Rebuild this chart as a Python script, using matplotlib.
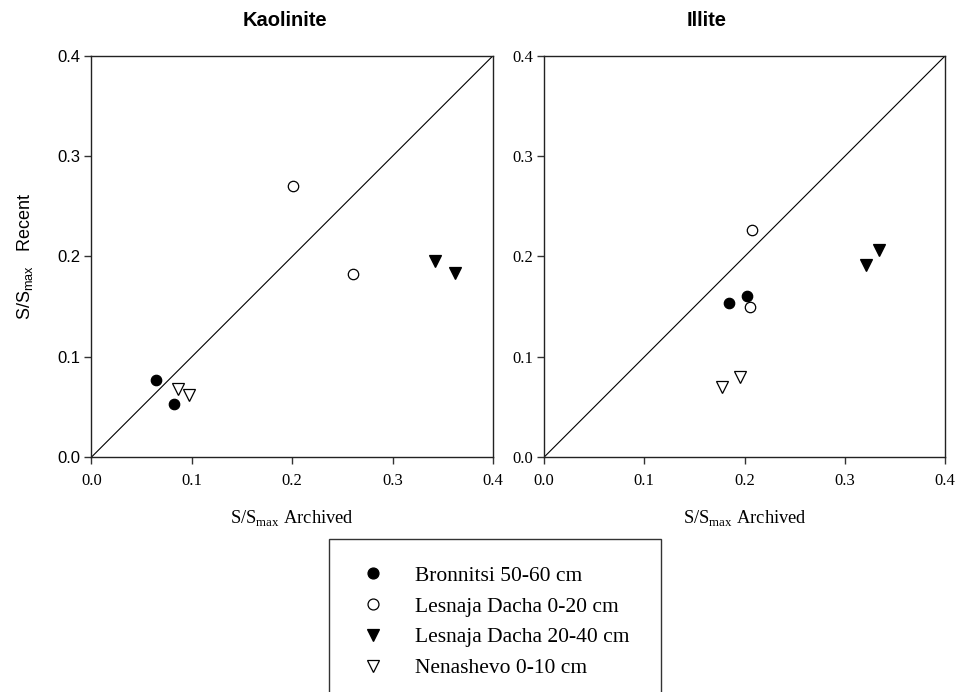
import matplotlib
matplotlib.use("Agg")
import matplotlib.pyplot as plt
from matplotlib.patches import Rectangle

# Sorption ratios S/Smax: archived (x) versus recent (y) soil samples
series = ["Bronnitsi 50-60 cm", "Lesnaja Dacha 0-20 cm",
          "Lesnaja Dacha 20-40 cm", "Nenashevo 0-10 cm"]

kaol_archived = {
    "Bronnitsi 50-60 cm": [0.064, 0.082],
    "Lesnaja Dacha 0-20 cm": [0.201, 0.261],
    "Lesnaja Dacha 20-40 cm": [0.342, 0.362],
    "Nenashevo 0-10 cm": [0.086, 0.097],
}
kaol_recent = {
    "Bronnitsi 50-60 cm": [0.077, 0.053],
    "Lesnaja Dacha 0-20 cm": [0.270, 0.183],
    "Lesnaja Dacha 20-40 cm": [0.196, 0.184],
    "Nenashevo 0-10 cm": [0.068, 0.062],
}
illite_archived = {
    "Bronnitsi 50-60 cm": [0.184, 0.202],
    "Lesnaja Dacha 0-20 cm": [0.207, 0.205],
    "Lesnaja Dacha 20-40 cm": [0.321, 0.334],
    "Nenashevo 0-10 cm": [0.177, 0.195],
}
illite_recent = {
    "Bronnitsi 50-60 cm": [0.154, 0.161],
    "Lesnaja Dacha 0-20 cm": [0.226, 0.150],
    "Lesnaja Dacha 20-40 cm": [0.192, 0.206],
    "Nenashevo 0-10 cm": [0.070, 0.080],
}

ticks = [0.0, 0.1, 0.2, 0.3, 0.4]
tick_labels = ["0.0", "0.1", "0.2", "0.3", "0.4"]

styles = {
    "Bronnitsi 50-60 cm": dict(marker="o", mfc="black", mec="black", ms=7.5),
    "Lesnaja Dacha 0-20 cm": dict(marker="o", mfc="white", mec="black", ms=7.5),
    "Lesnaja Dacha 20-40 cm": dict(marker="v", mfc="black", mec="black", ms=8.0),
    "Nenashevo 0-10 cm": dict(marker="v", mfc="white", mec="black", ms=8.0),
}

SANS = "Liberation Sans"
SERIF = "Liberation Serif"

fig = plt.figure(figsize=(9.56, 6.92), dpi=100)
ax1 = fig.add_axes([0.0955, 0.3392, 0.4202, 0.5803])
ax2 = fig.add_axes([0.5690, 0.3392, 0.4198, 0.5803])


def draw_panel(ax, xs, ys, yfont):
    ax.plot([0, 0.4], [0, 0.4], color="black", lw=0.8, zorder=1)
    handles = []
    for name in series:
        h, = ax.plot(xs[name], ys[name], linestyle="none", mew=0.9,
                     zorder=3, label=name, **styles[name])
        handles.append(h)
    ax.set_xlim(0, 0.4)
    ax.set_ylim(0, 0.4)
    ax.set_xticks(ticks)
    ax.set_yticks(ticks)
    ax.set_xticklabels(tick_labels, fontfamily=SERIF, fontsize=12)
    ax.set_yticklabels(tick_labels, fontfamily=yfont, fontsize=12)
    ax.tick_params(direction="out", length=5, width=1, color="#333333")
    ax.tick_params(axis="x", pad=6)
    ax.tick_params(axis="y", pad=3)
    for sp in ax.spines.values():
        sp.set_linewidth(1.0)
        sp.set_color("#222222")
    ax.set_xlabel(r"S/S$_\mathregular{max}$ Archived", fontfamily=SERIF,
                  fontsize=13.3, labelpad=14)
    return handles


handles = draw_panel(ax1, kaol_archived, kaol_recent, SANS)
draw_panel(ax2, illite_archived, illite_recent, SERIF)

ax1.set_ylabel(r"S/S$_\mathregular{max}$   Recent", fontfamily=SANS,
               fontsize=13, labelpad=16)

fig.text(284.5 / 956, 1 - 20.5 / 692, "Kaolinite", fontfamily=SANS,
         fontweight="bold", fontsize=14.5, ha="center", va="center")
fig.text(706.5 / 956, 1 - 20.5 / 692, "Illite", fontfamily=SANS,
         fontweight="bold", fontsize=14.5, ha="center", va="center")

# Legend box, open at the bottom edge of the figure
fig.patches.append(Rectangle((329.3 / 956, -0.02), (660.7 - 329.3) / 956,
                             1 - 539 / 692 + 0.02, transform=fig.transFigure,
                             fill=False, edgecolor="#333333", lw=1.0))

fig.legend(handles, series, loc="center left",
           bbox_to_anchor=(362 / 956, 1 - 622 / 692), frameon=False,
           prop={"family": SERIF, "size": 15.5}, borderpad=0,
           borderaxespad=0, handlelength=1.0, handletextpad=1.45,
           labelspacing=0.5, markerscale=1.05)

fig.savefig("out.png", dpi=100)
